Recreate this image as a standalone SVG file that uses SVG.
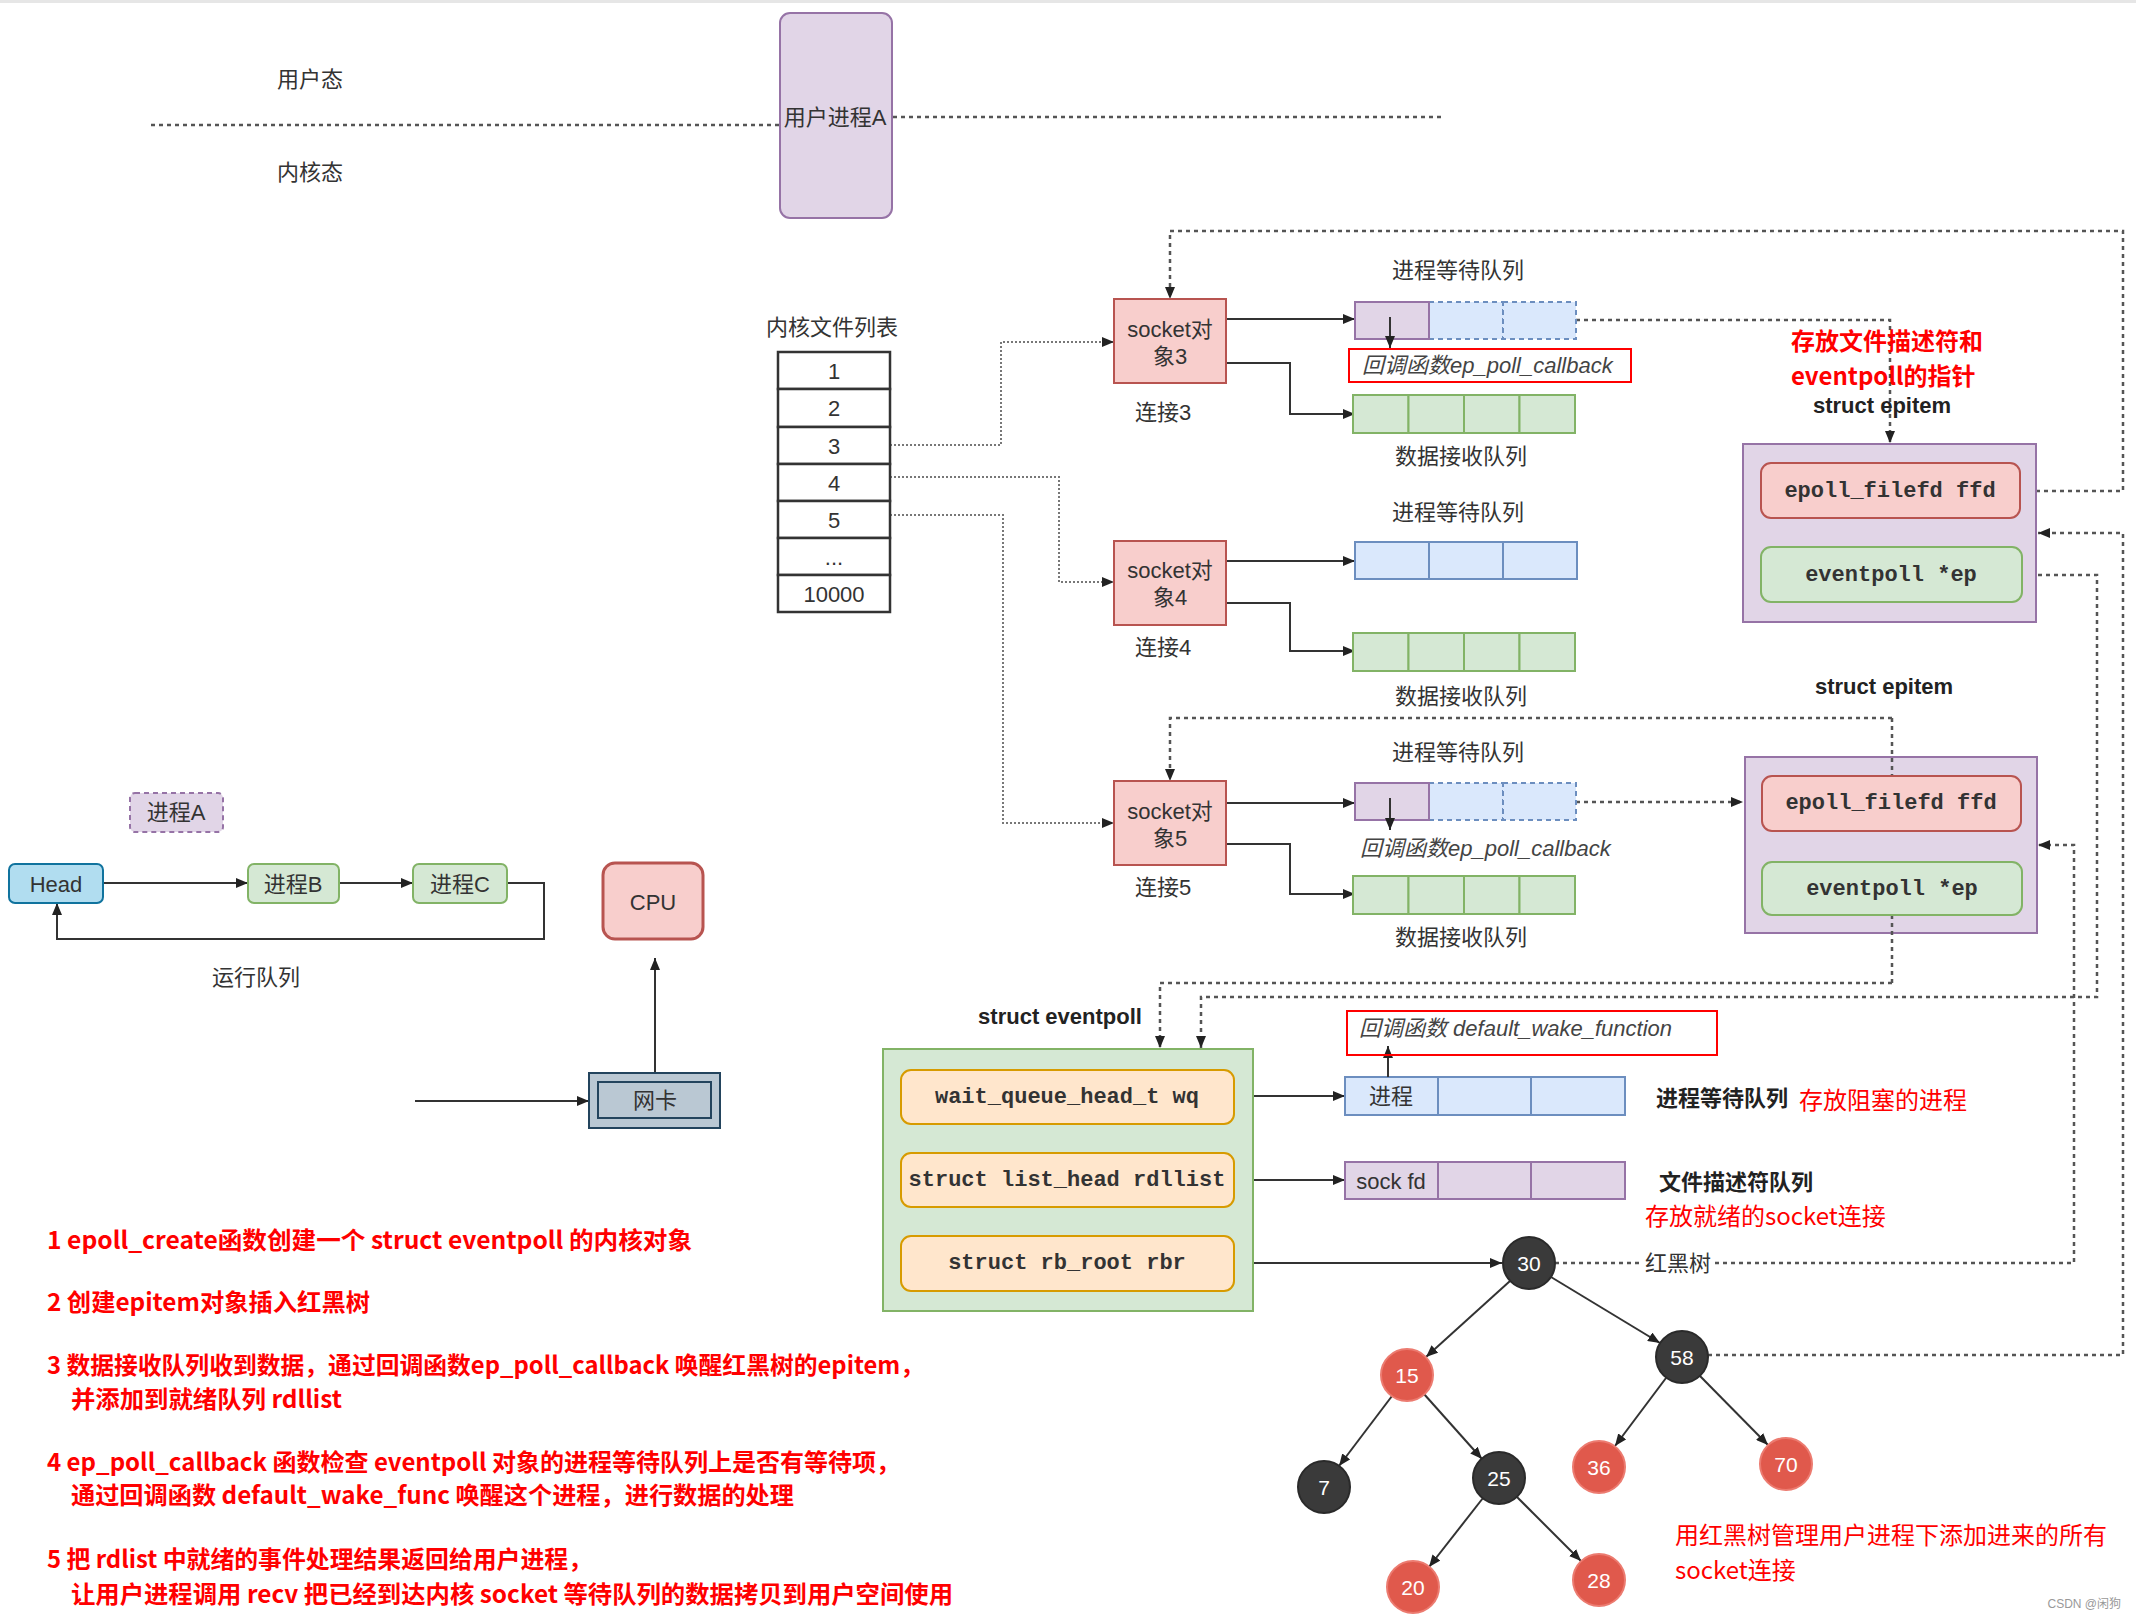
<svg xmlns="http://www.w3.org/2000/svg" width="2136" height="1622" viewBox="0 0 2136 1622">
<defs>
<marker id="arr" markerWidth="12" markerHeight="10" refX="12" refY="5" orient="auto" markerUnits="userSpaceOnUse">
<path d="M0,0 L12,5 L0,10 z" fill="#222"/>
</marker>
<style>
.t{font-family:"Liberation Sans","Noto Sans CJK SC",sans-serif;font-size:22px;fill:#333;}
.c{text-anchor:middle;dominant-baseline:central;}
.b{font-weight:bold;fill:#222;}
.it{font-style:italic;fill:#444;}
.m{font-family:"Liberation Mono","Courier New",monospace;font-size:22px;font-weight:bold;fill:#333;text-anchor:middle;dominant-baseline:central;}
.r{font-family:"Noto Sans CJK SC",sans-serif;font-size:24px;fill:#ff0000;dominant-baseline:central;}
.s{font-weight:bold;}
.n{font-family:"Liberation Sans",sans-serif;font-size:21px;fill:#fff;text-anchor:middle;dominant-baseline:central;}
.ln{fill:none;stroke:#333;stroke-width:2;}
.dt{fill:none;stroke:#555;stroke-width:2.5;stroke-dasharray:4 4;}
.fd{fill:none;stroke:#777;stroke-width:2;stroke-dasharray:2 2;}
.pu{fill:#e1d5e7;stroke:#9673a6;stroke-width:2;}
.bl{fill:#dae8fc;stroke:#6c8ebf;stroke-width:2;}
.bld{fill:#dae8fc;stroke:#6c8ebf;stroke-width:2;stroke-dasharray:5 4;}
.gr{fill:#d5e8d4;stroke:#82b366;stroke-width:2;}
.pk{fill:#f8cecc;stroke:#b85450;stroke-width:2;}
.or{fill:#ffe6cc;stroke:#d79b00;stroke-width:2;}
.rb{fill:none;stroke:#ff0000;stroke-width:2;}
.dk{fill:#3a3a3a;stroke:#2a2a2a;stroke-width:2;}
.rd{fill:#e0594c;stroke:#ec7b70;stroke-width:2;}
</style>
</defs>
<rect x="0" y="0" width="2136" height="1622" fill="#ffffff"/>
<rect x="0" y="0" width="2136" height="3" fill="#e6e6e6"/>

<!-- connectors -->
<g id="connectors">
<path class="dt" d="M151,125 H780"/>
<path class="dt" d="M893,117 H1444"/>
<path class="fd" d="M890,445 H1001 V342 H1114" marker-end="url(#arr)"/>
<path class="fd" d="M890,477 H1059 V582 H1114" marker-end="url(#arr)"/>
<path class="fd" d="M890,515 H1003 V823 H1114" marker-end="url(#arr)"/>
<path class="ln" d="M1226,319 H1355" marker-end="url(#arr)"/>
<path class="ln" d="M1226,363 H1290 V414 H1355" marker-end="url(#arr)"/>
<path class="ln" d="M1226,561 H1355" marker-end="url(#arr)"/>
<path class="ln" d="M1226,603 H1290 V651 H1355" marker-end="url(#arr)"/>
<path class="ln" d="M1226,803 H1355" marker-end="url(#arr)"/>
<path class="ln" d="M1226,844 H1290 V894 H1355" marker-end="url(#arr)"/>
<path class="dt" d="M2020,491 H2123 V231 H1170 V299" marker-end="url(#arr)"/>
<path class="dt" d="M1576,320 H1890 V443" marker-end="url(#arr)"/>
<path class="dt" d="M1708,1355 H2123 V533 H2038" marker-end="url(#arr)"/>
<path class="dt" d="M2022,575 H2097 V997 H1201 V1048" marker-end="url(#arr)"/>
<path class="dt" d="M1555,1263 H2074 V845 H2038" marker-end="url(#arr)"/>
<path class="dt" d="M1576,802 H1743" marker-end="url(#arr)"/>
<path class="dt" d="M1892,718 H1170 V781" marker-end="url(#arr)"/>
<path class="dt" d="M1892,983 H1160 V1048" marker-end="url(#arr)"/>
<path class="ln" d="M103,883 H248" marker-end="url(#arr)"/>
<path class="ln" d="M339,883 H413" marker-end="url(#arr)"/>
<path class="ln" d="M507,883 H544 V939 H57 V903" marker-end="url(#arr)"/>
<path class="ln" d="M655,1073 V958" marker-end="url(#arr)"/>
<path class="ln" d="M415,1101 H589" marker-end="url(#arr)"/>
<path class="ln" d="M1234,1096 H1345" marker-end="url(#arr)"/>
<path class="ln" d="M1234,1180 H1345" marker-end="url(#arr)"/>
<path class="ln" d="M1253,1263 H1502" marker-end="url(#arr)"/>
<path class="ln" d="M1510,1281 L1426,1357" marker-end="url(#arr)"/>
<path class="ln" d="M1551,1277 L1660,1343" marker-end="url(#arr)"/>
<path class="ln" d="M1392,1396 L1339,1466" marker-end="url(#arr)"/>
<path class="ln" d="M1424,1394 L1482,1459" marker-end="url(#arr)"/>
<path class="ln" d="M1666,1378 L1615,1446" marker-end="url(#arr)"/>
<path class="ln" d="M1700,1376 L1768,1445" marker-end="url(#arr)"/>
<path class="ln" d="M1483,1498 L1429,1567" marker-end="url(#arr)"/>
<path class="ln" d="M1517,1497 L1581,1561" marker-end="url(#arr)"/>
</g>

<!-- top -->
<g id="user-kernel">
<text class="t c" x="310" y="79">用户态</text>
<text class="t c" x="310" y="172">内核态</text>
</g>
<g id="user-process-a">
<rect class="pu" x="780" y="13" width="112" height="205" rx="10"/>
<text class="t c" x="835" y="117">用户进程A</text>
</g>

<!-- kernel file list -->
<g id="kernel-file-list">
<text class="t c" x="832" y="327">内核文件列表</text>
<g fill="#fff" stroke="#333" stroke-width="2.5">
<rect x="778" y="352" width="112" height="37"/>
<rect x="778" y="389" width="112" height="38"/>
<rect x="778" y="427" width="112" height="37"/>
<rect x="778" y="464" width="112" height="37"/>
<rect x="778" y="501" width="112" height="37"/>
<rect x="778" y="538" width="112" height="37"/>
<rect x="778" y="575" width="112" height="37"/>
</g>
<text class="t c" x="834" y="371" font-size="21">1</text>
<text class="t c" x="834" y="408" font-size="21">2</text>
<text class="t c" x="834" y="446" font-size="21">3</text>
<text class="t c" x="834" y="483" font-size="21">4</text>
<text class="t c" x="834" y="520" font-size="21">5</text>
<text class="t c" x="834" y="557" font-size="14">...</text>
<text class="t c" x="834" y="594" font-size="21">10000</text>
</g>

<!-- socket 3 -->
<g id="socket3">
<rect class="pk" x="1114" y="299" width="112" height="84"/>
<text class="t c" x="1170" y="329" font-size="21">socket对</text>
<text class="t c" x="1170" y="356" font-size="21">象3</text>
<text class="t c" x="1163" y="412" font-size="21">连接3</text>
</g>
<g id="wait-queue-3">
<text class="t c" x="1458" y="270">进程等待队列</text>
<rect class="bld" x="1429" y="302" width="74" height="37"/>
<rect class="bld" x="1503" y="302" width="73" height="37"/>
<rect class="pu" x="1355" y="302" width="74" height="37"/>
<path class="ln" d="M1390,317 V348" marker-end="url(#arr)"/>
</g>
<g id="callback-3">
<rect class="rb" x="1349" y="349" width="282" height="33"/>
<text class="t it" x="1362" y="373">回调函数ep_poll_callback</text>
</g>
<g id="recv-queue-3">
<rect class="gr" x="1353" y="395" width="55.5" height="38"/>
<rect class="gr" x="1408.5" y="395" width="55.5" height="38"/>
<rect class="gr" x="1464" y="395" width="55.5" height="38"/>
<rect class="gr" x="1519.5" y="395" width="55.5" height="38"/>
<text class="t c" x="1461" y="456">数据接收队列</text>
</g>

<!-- socket 4 -->
<g id="socket4">
<rect class="pk" x="1114" y="541" width="112" height="84"/>
<text class="t c" x="1170" y="570" font-size="21">socket对</text>
<text class="t c" x="1170" y="597" font-size="21">象4</text>
<text class="t c" x="1163" y="647" font-size="21">连接4</text>
</g>
<g id="wait-queue-4">
<text class="t c" x="1458" y="512">进程等待队列</text>
<rect class="bl" x="1355" y="542" width="74" height="37"/>
<rect class="bl" x="1429" y="542" width="74" height="37"/>
<rect class="bl" x="1503" y="542" width="74" height="37"/>
</g>
<g id="recv-queue-4">
<rect class="gr" x="1353" y="633" width="55.5" height="38"/>
<rect class="gr" x="1408.5" y="633" width="55.5" height="38"/>
<rect class="gr" x="1464" y="633" width="55.5" height="38"/>
<rect class="gr" x="1519.5" y="633" width="55.5" height="38"/>
<text class="t c" x="1461" y="696">数据接收队列</text>
</g>

<!-- socket 5 -->
<g id="socket5">
<rect class="pk" x="1114" y="781" width="112" height="84"/>
<text class="t c" x="1170" y="811" font-size="21">socket对</text>
<text class="t c" x="1170" y="838" font-size="21">象5</text>
<text class="t c" x="1163" y="887" font-size="21">连接5</text>
</g>
<g id="wait-queue-5">
<text class="t c" x="1458" y="752">进程等待队列</text>
<rect class="bld" x="1429" y="783" width="74" height="37"/>
<rect class="bld" x="1503" y="783" width="73" height="37"/>
<rect class="pu" x="1355" y="783" width="74" height="37"/>
<path class="ln" d="M1390,798 V830" marker-end="url(#arr)"/>
<text class="t it" x="1360" y="856">回调函数ep_poll_callback</text>
</g>
<g id="recv-queue-5">
<rect class="gr" x="1353" y="876" width="55.5" height="38"/>
<rect class="gr" x="1408.5" y="876" width="55.5" height="38"/>
<rect class="gr" x="1464" y="876" width="55.5" height="38"/>
<rect class="gr" x="1519.5" y="876" width="55.5" height="38"/>
<text class="t c" x="1461" y="937">数据接收队列</text>
</g>

<!-- epitem 1 -->
<g id="epitem1">
<text class="r s" x="1791" y="339">存放文件描述符和</text>
<text class="r s" x="1791" y="374">eventpoll的指针</text>
<text class="t c b" x="1882" y="405">struct epitem</text>
<rect class="pu" x="1743" y="444" width="293" height="178"/>
<rect class="pk" x="1761" y="463" width="259" height="55" rx="10"/>
<text class="m" x="1890" y="491">epoll_filefd ffd</text>
<rect class="gr" x="1761" y="547" width="261" height="55" rx="10"/>
<text class="m" x="1891" y="575">eventpoll *ep</text>
</g>

<!-- epitem 2 -->
<g id="epitem2">
<text class="t c b" x="1884" y="686">struct epitem</text>
<rect class="pu" x="1745" y="757" width="292" height="176"/>
<path class="dt" d="M1892,718 V776 M1892,915 V983" stroke-width="2" stroke-dasharray="5 4"/>
<rect class="pk" x="1762" y="776" width="259" height="55" rx="10"/>
<text class="m" x="1891" y="803">epoll_filefd ffd</text>
<rect class="gr" x="1762" y="862" width="260" height="53" rx="10"/>
<text class="m" x="1892" y="889">eventpoll *ep</text>
</g>

<!-- run queue -->
<g id="process-a">
<rect class="pu" x="130" y="793" width="93" height="39" rx="5" stroke-dasharray="5 4"/>
<text class="t c" x="176" y="812" font-size="21">进程A</text>
</g>
<g id="head">
<rect x="9" y="864" width="94" height="39" rx="6" fill="#b1ddf0" stroke="#10739e" stroke-width="2"/>
<text class="t c" x="56" y="884" font-size="21">Head</text>
</g>
<g id="process-b">
<rect class="gr" x="248" y="864" width="91" height="39" rx="6"/>
<text class="t c" x="293" y="884" font-size="21">进程B</text>
</g>
<g id="process-c">
<rect class="gr" x="413" y="864" width="94" height="39" rx="6"/>
<text class="t c" x="460" y="884" font-size="21">进程C</text>
</g>
<text class="t c" x="256" y="977" font-size="21">运行队列</text>

<g id="cpu">
<rect x="603" y="863" width="100" height="76" rx="12" fill="#f8cecc" stroke="#b85450" stroke-width="3"/>
<text class="t c" x="653" y="902" font-size="24">CPU</text>
</g>
<g id="nic">
<rect x="589" y="1073" width="131" height="55" fill="#bac8d3" stroke="#23445d" stroke-width="2"/>
<rect x="598" y="1082" width="113" height="36" fill="#bac8d3" stroke="#23445d" stroke-width="2"/>
<text class="t c" x="655" y="1100" font-size="21">网卡</text>
</g>

<!-- eventpoll -->
<g id="eventpoll">
<text class="t c b" x="1060" y="1016">struct eventpoll</text>
<rect class="gr" x="883" y="1049" width="370" height="262"/>
<rect class="or" x="901" y="1070" width="333" height="54" rx="10"/>
<text class="m" x="1067" y="1097">wait_queue_head_t wq</text>
<rect class="or" x="901" y="1153" width="333" height="54" rx="10"/>
<text class="m" x="1067" y="1180">struct list_head rdllist</text>
<rect class="or" x="901" y="1236" width="333" height="55" rx="10"/>
<text class="m" x="1067" y="1263">struct rb_root rbr</text>
</g>
<g id="wq-queue">
<rect class="bl" x="1345" y="1077" width="93" height="38"/>
<rect class="bl" x="1438" y="1077" width="93" height="38"/>
<rect class="bl" x="1531" y="1077" width="94" height="38"/>
<text class="t c" x="1391" y="1096">进程</text>
<path class="ln" d="M1388,1077 V1046" marker-end="url(#arr)"/>
<text class="t c b" x="1722" y="1098">进程等待队列</text>
<text class="r" x="1799" y="1098">存放阻塞的进程</text>
</g>
<g id="callback-wake">
<rect class="rb" x="1347" y="1011" width="370" height="44"/>
<text class="t it" x="1359" y="1036">回调函数 default_wake_function</text>
</g>
<g id="rdllist-queue">
<rect class="pu" x="1345" y="1162" width="93" height="37"/>
<rect class="pu" x="1438" y="1162" width="93" height="37"/>
<rect class="pu" x="1531" y="1162" width="94" height="37"/>
<text class="t c" x="1391" y="1181" font-size="21">sock fd</text>
<text class="t c b" x="1736" y="1182">文件描述符队列</text>
<text class="r" x="1645" y="1214">存放就绪的socket连接</text>
</g>

<!-- red-black tree -->
<g id="rbtree-label">
<rect x="1642" y="1250" width="72" height="26" fill="#fff"/>
<text class="t c" x="1678" y="1263">红黑树</text>
</g>
<g id="node-30"><circle class="dk" cx="1529" cy="1263" r="26"/><text class="n" x="1529" y="1263">30</text></g>
<g id="node-15"><circle class="rd" cx="1407" cy="1375" r="26"/><text class="n" x="1407" y="1375">15</text></g>
<g id="node-58"><circle class="dk" cx="1682" cy="1357" r="26"/><text class="n" x="1682" y="1357">58</text></g>
<g id="node-7"><circle class="dk" cx="1324" cy="1487" r="26"/><text class="n" x="1324" y="1487">7</text></g>
<g id="node-25"><circle class="dk" cx="1499" cy="1478" r="26"/><text class="n" x="1499" y="1478">25</text></g>
<g id="node-36"><circle class="rd" cx="1599" cy="1467" r="26"/><text class="n" x="1599" y="1467">36</text></g>
<g id="node-70"><circle class="rd" cx="1786" cy="1464" r="26"/><text class="n" x="1786" y="1464">70</text></g>
<g id="node-20"><circle class="rd" cx="1413" cy="1587" r="26"/><text class="n" x="1413" y="1587">20</text></g>
<g id="node-28"><circle class="rd" cx="1599" cy="1580" r="26"/><text class="n" x="1599" y="1580">28</text></g>

<g id="rbtree-note">
<text class="r" x="1675" y="1533">用红黑树管理用户进程下添加进来的所有</text>
<text class="r" x="1675" y="1568">socket连接</text>
</g>

<!-- steps -->
<g id="steps">
<text class="r s" x="47" y="1238" textLength="645" lengthAdjust="spacingAndGlyphs">1 epoll_create函数创建一个 struct eventpoll 的内核对象</text>
<text class="r s" x="47" y="1300" textLength="323" lengthAdjust="spacingAndGlyphs">2 创建epitem对象插入红黑树</text>
<text class="r s" x="47" y="1363" textLength="877" lengthAdjust="spacingAndGlyphs">3 数据接收队列收到数据，通过回调函数ep_poll_callback 唤醒红黑树的epitem，</text>
<text class="r s" x="71" y="1397" textLength="271" lengthAdjust="spacingAndGlyphs">并添加到就绪队列 rdllist</text>
<text class="r s" x="47" y="1460" textLength="853" lengthAdjust="spacingAndGlyphs">4 ep_poll_callback 函数检查 eventpoll 对象的进程等待队列上是否有等待项，</text>
<text class="r s" x="71" y="1493" textLength="723" lengthAdjust="spacingAndGlyphs">通过回调函数 default_wake_func 唤醒这个进程，进行数据的处理</text>
<text class="r s" x="47" y="1557" textLength="545" lengthAdjust="spacingAndGlyphs">5 把 rdlist 中就绪的事件处理结果返回给用户进程，</text>
<text class="r s" x="71" y="1592" textLength="882" lengthAdjust="spacingAndGlyphs">让用户进程调用 recv 把已经到达内核 socket 等待队列的数据拷贝到用户空间使用</text>
</g>
<text x="2121" y="1608" text-anchor="end" font-family="Liberation Sans,Noto Sans CJK SC,sans-serif" font-size="12" fill="#999">CSDN @闲狗</text>
</svg>
